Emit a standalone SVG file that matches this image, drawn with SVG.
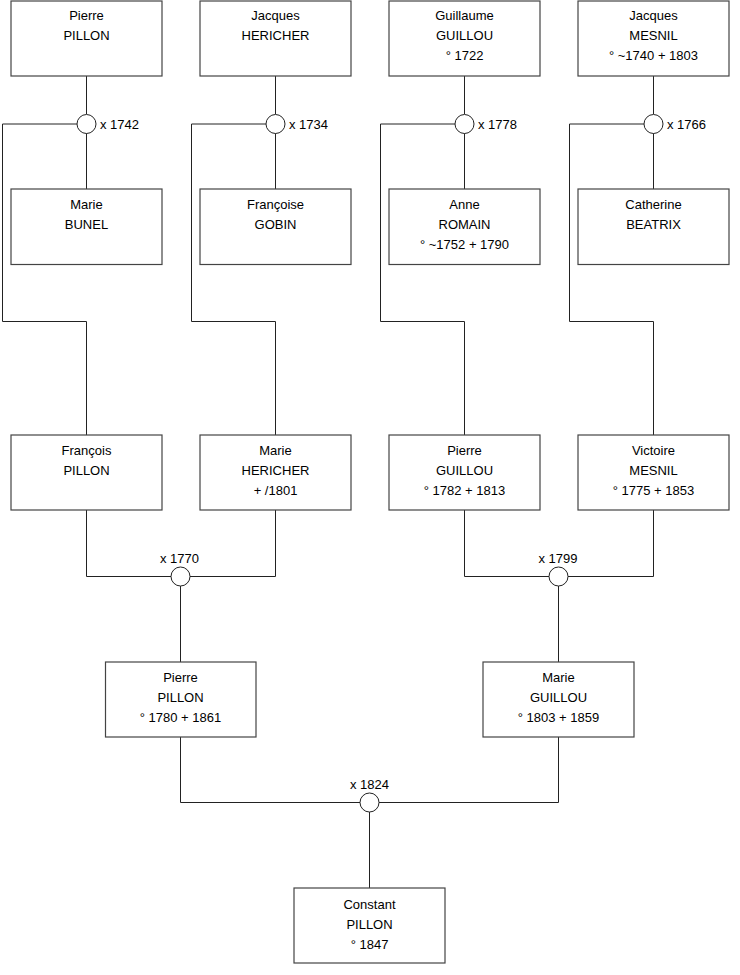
<svg xmlns="http://www.w3.org/2000/svg" width="740" height="975" viewBox="0 0 740 975">
<style>
.box{fill:#fff;stroke:#444;stroke-width:1.2}
.ln{fill:none;stroke:#222;stroke-width:1}
.ring{fill:#fff;stroke:#222;stroke-width:1}
text{font-family:"Liberation Sans",Arial,sans-serif;font-size:13px;fill:#000}
.c{text-anchor:middle}
</style>
<rect width="740" height="975" fill="#fff"/>
<g id="connectors">
<path class="ln" d="M86.5 76V114M86.5 133V189M77 124H2.5V321.5H86.5V435"/>
<path class="ln" d="M275.5 76V114M275.5 133V189M266 124H191.5V321.5H275.5V435"/>
<path class="ln" d="M464.5 76V114M464.5 133V189M455 124H380.5V321.5H464.5V435"/>
<path class="ln" d="M653.5 76V114M653.5 133V189M644 124H569.5V321.5H653.5V435"/>
<path class="ln" d="M86.5 510V576.5H171M190 576.5H275.5V510M180.5 586V662"/>
<path class="ln" d="M464.5 510V576.5H549M568 576.5H653.5V510M558.5 586V662"/>
<path class="ln" d="M180.5 737V802.5H360M379 802.5H558.5V737M369.5 812V888"/>
<circle class="ring" cx="86.5" cy="124" r="9.5"/>
<circle class="ring" cx="275.5" cy="124" r="9.5"/>
<circle class="ring" cx="464.5" cy="124" r="9.5"/>
<circle class="ring" cx="653.5" cy="124" r="9.5"/>
<circle class="ring" cx="180.5" cy="576.5" r="9.5"/>
<circle class="ring" cx="558.5" cy="576.5" r="9.5"/>
<circle class="ring" cx="369.5" cy="802.5" r="9.5"/>
<text x="100" y="129">x 1742</text>
<text x="289" y="129">x 1734</text>
<text x="478" y="129">x 1778</text>
<text x="667" y="129">x 1766</text>
<text class="c" x="179.5" y="563">x 1770</text>
<text class="c" x="558" y="563">x 1799</text>
<text class="c" x="369.5" y="789">x 1824</text>
</g>
<g id="pierre-pillon-1"><rect class="box" x="11" y="1" width="151" height="75"/><text class="c" x="86.5" y="20">Pierre</text><text class="c" x="86.5" y="40">PILLON</text></g>
<g id="jacques-hericher"><rect class="box" x="200" y="1" width="151" height="75"/><text class="c" x="275.5" y="20">Jacques</text><text class="c" x="275.5" y="40">HERICHER</text></g>
<g id="guillaume-guillou"><rect class="box" x="389" y="1" width="151" height="75"/><text class="c" x="464.5" y="20">Guillaume</text><text class="c" x="464.5" y="40">GUILLOU</text><text class="c" x="464.5" y="60">° 1722</text></g>
<g id="jacques-mesnil"><rect class="box" x="578" y="1" width="151" height="75"/><text class="c" x="653.5" y="20">Jacques</text><text class="c" x="653.5" y="40">MESNIL</text><text class="c" x="653.5" y="60">° ~1740 + 1803</text></g>
<g id="marie-bunel"><rect class="box" x="11" y="189" width="151" height="75.5"/><text class="c" x="86.5" y="209">Marie</text><text class="c" x="86.5" y="229">BUNEL</text></g>
<g id="francoise-gobin"><rect class="box" x="200" y="189" width="151" height="75.5"/><text class="c" x="275.5" y="209">Françoise</text><text class="c" x="275.5" y="229">GOBIN</text></g>
<g id="anne-romain"><rect class="box" x="389" y="189" width="151" height="75.5"/><text class="c" x="464.5" y="209">Anne</text><text class="c" x="464.5" y="229">ROMAIN</text><text class="c" x="464.5" y="249">° ~1752 + 1790</text></g>
<g id="catherine-beatrix"><rect class="box" x="578" y="189" width="151" height="75.5"/><text class="c" x="653.5" y="209">Catherine</text><text class="c" x="653.5" y="229">BEATRIX</text></g>
<g id="francois-pillon"><rect class="box" x="11" y="435" width="151" height="75"/><text class="c" x="86.5" y="455">François</text><text class="c" x="86.5" y="475">PILLON</text></g>
<g id="marie-hericher"><rect class="box" x="200" y="435" width="151" height="75"/><text class="c" x="275.5" y="455">Marie</text><text class="c" x="275.5" y="475">HERICHER</text><text class="c" x="275.5" y="495">+ /1801</text></g>
<g id="pierre-guillou"><rect class="box" x="389" y="435" width="151" height="75"/><text class="c" x="464.5" y="455">Pierre</text><text class="c" x="464.5" y="475">GUILLOU</text><text class="c" x="464.5" y="495">° 1782 + 1813</text></g>
<g id="victoire-mesnil"><rect class="box" x="578" y="435" width="151" height="75"/><text class="c" x="653.5" y="455">Victoire</text><text class="c" x="653.5" y="475">MESNIL</text><text class="c" x="653.5" y="495">° 1775 + 1853</text></g>
<g id="pierre-pillon-2"><rect class="box" x="105.5" y="662" width="150.5" height="75"/><text class="c" x="180.5" y="682">Pierre</text><text class="c" x="180.5" y="702">PILLON</text><text class="c" x="180.5" y="722">° 1780 + 1861</text></g>
<g id="marie-guillou"><rect class="box" x="483" y="662" width="151" height="75"/><text class="c" x="558.5" y="682">Marie</text><text class="c" x="558.5" y="702">GUILLOU</text><text class="c" x="558.5" y="722">° 1803 + 1859</text></g>
<g id="constant-pillon"><rect class="box" x="294" y="888" width="151" height="75"/><text class="c" x="369.5" y="909">Constant</text><text class="c" x="369.5" y="929">PILLON</text><text class="c" x="369.5" y="949">° 1847</text></g>
</svg>
